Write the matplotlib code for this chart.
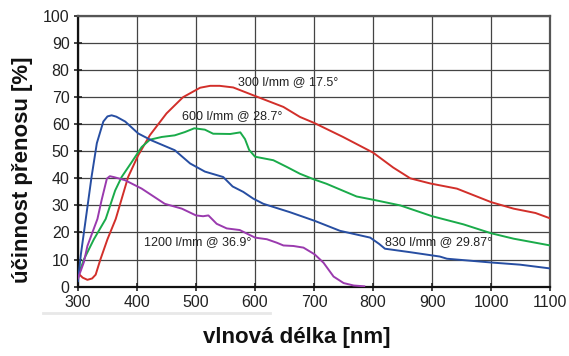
import numpy as np
import matplotlib
matplotlib.use('Agg')
import matplotlib.pyplot as plt
from matplotlib.lines import Line2D

# grating efficiency curves, wavelength [nm] vs efficiency [%]
wl_300 = [300, 308, 316, 324, 330, 338, 350, 364, 385, 402, 422, 450, 478, 507, 524, 540, 563, 597,
          648, 676, 700, 749, 800, 834, 863, 897, 942, 1000, 1038, 1075, 1100]
eff_300 = [5.0, 3.3, 2.5, 3.0, 4.4, 10.0, 17.5, 25.0, 40.5, 48.5, 56.0, 64.0, 70.0, 73.5, 74.2, 74.2,
           73.6, 70.7, 66.4, 62.7, 60.5, 55.3, 49.5, 44.0, 40.0, 38.1, 36.2, 31.2, 28.8, 27.2, 25.2]

wl_600 = [300, 310, 327, 347, 363, 374, 391, 408, 422, 442, 464, 481, 497, 515, 529, 558, 575,
          583, 590, 600, 631, 654, 676, 700, 721, 772, 800, 846, 900, 953, 1000, 1038, 1100]
eff_600 = [3.7, 10.0, 17.5, 25.0, 35.5, 40.5, 46.0, 51.6, 54.3, 55.3, 55.9, 57.1, 58.5, 58.0, 56.5,
           56.4, 57.0, 54.5, 50.5, 48.0, 46.7, 44.2, 41.7, 39.6, 38.0, 33.3, 32.1, 30.0, 26.0, 23.0,
           19.7, 17.7, 15.2]

wl_830 = [300, 305, 312, 323, 332, 343, 350, 357, 365, 380, 402, 425, 464, 490, 515, 546, 562, 580,
          597, 614, 659, 701, 744, 795, 810, 820, 863, 913, 925, 1000, 1049, 1100]
eff_830 = [2.0, 12.0, 23.0, 40.5, 53.0, 61.0, 62.9, 63.3, 62.8, 61.0, 56.6, 54.0, 50.4, 45.5, 42.5,
           40.5, 37.0, 35.0, 32.5, 30.6, 27.5, 24.3, 20.6, 18.1, 15.8, 14.0, 12.7, 11.1, 10.3, 8.9,
           8.1, 6.7]

wl_1200 = [300, 310, 316, 333, 340, 349, 354, 362, 380, 408, 447, 476, 500, 512, 521, 535, 552, 574,
           600, 620, 637, 648, 665, 682, 701, 716, 733, 750, 767, 785]
eff_1200 = [3.0, 9.0, 15.0, 25.0, 31.9, 39.9, 40.8, 40.4, 39.3, 36.2, 30.6, 28.8, 26.3, 26.0, 26.3,
            23.2, 21.5, 20.9, 18.1, 17.5, 16.2, 15.2, 15.0, 14.4, 11.9, 8.8, 3.7, 1.3, 0.4, 0.1]

labels = ['300 l/mm @ 17.5°', '600 l/mm @ 28.7°', '830 l/mm @ 29.87°', '1200 l/mm @ 36.9°']
label_pos = [(571, 75.5), (477, 63.0), (820, 16.3), (412, 16.3)]
colors = ['#d22f2a', '#1aab4a', '#274ea2', '#9a3aae']

plt.rcParams['font.family'] = ['Liberation Sans', 'DejaVu Sans']

fig = plt.figure(figsize=(5.69, 3.56), dpi=100)
ax = fig.add_axes([0.137, 0.195, 0.830, 0.760])

series = [(wl_300, eff_300), (wl_600, eff_600), (wl_830, eff_830), (wl_1200, eff_1200)]
for (x, y), c in zip(series, colors):
    ax.plot(x, y, color=c, lw=1.4, solid_joinstyle='round', zorder=3)

for txt, (x, y) in zip(labels, label_pos):
    ax.text(x, y, txt, fontsize=9, color='#222222', ha='left', va='center', zorder=4)

ax.set_xlim(300, 1100)
ax.set_ylim(0, 100)
ax.set_xticks(np.arange(300, 1101, 100))
ax.set_yticks(np.arange(0, 101, 10))
ax.grid(True, color='#444444', lw=0.9)
ax.set_axisbelow(True)
ax.tick_params(direction='inout', length=6, width=1.2, labelsize=11.5, colors='#222222', pad=3)

for side in ['left', 'bottom']:
    ax.spines[side].set_linewidth(1.6)
    ax.spines[side].set_color('#111111')
for side in ['top', 'right']:
    ax.spines[side].set_linewidth(1.6)
    ax.spines[side].set_color('#555555')

# axis titles placed in figure coordinates
fig.text(0.522, 0.051, 'vlnová délka [nm]', fontsize=16, fontweight='bold', color='#111111',
         ha='center', va='center')
fig.text(0.040, 0.522, 'účinnost přenosu [%]', fontsize=16, fontweight='bold', color='#111111',
         ha='center', va='center', rotation=90)

# faint rule under the left part of the x tick labels
fig.add_artist(Line2D([43 / 569, 270 / 569], [1 - 313 / 356, 1 - 313 / 356],
                      color='#e8e8e8', lw=2, transform=fig.transFigure))

fig.savefig('out.png', dpi=100)
